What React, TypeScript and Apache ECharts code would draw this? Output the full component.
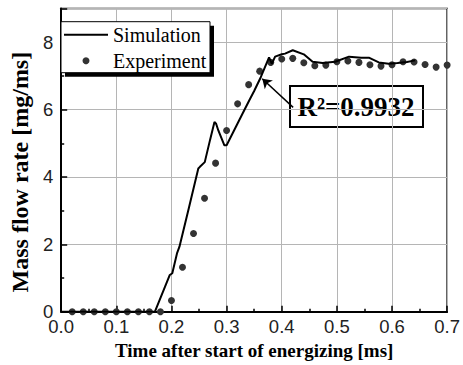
import React, { useEffect, useRef } from "react";
import * as echarts from "echarts";

// Simulation curve: [time ms, mass flow rate mg/ms]
const simTime = [0, 0.17, 0.197, 0.2015, 0.21, 0.2145, 0.232, 0.2487, 0.2516, 0.2604, 0.27, 0.278, 0.281, 0.285, 0.296, 0.30, 0.332, 0.341, 0.35, 0.362, 0.377, 0.382, 0.388, 0.40, 0.406, 0.42, 0.44, 0.456, 0.474, 0.497, 0.522, 0.544, 0.558, 0.576, 0.594, 0.61, 0.627, 0.642];
const simValue = [0, 0, 1.09, 1.14, 1.73, 1.93, 3.11, 4.25, 4.30, 4.44, 5.1, 5.63, 5.58, 5.38, 4.94, 4.94, 5.98, 6.27, 6.55, 6.96, 7.55, 7.36, 7.57, 7.64, 7.66, 7.76, 7.64, 7.42, 7.38, 7.42, 7.57, 7.54, 7.54, 7.40, 7.36, 7.38, 7.41, 7.46];

// Experiment points
const expTime = [0.02, 0.04, 0.06, 0.08, 0.10, 0.12, 0.14, 0.16, 0.18, 0.20, 0.22, 0.24, 0.26, 0.28, 0.30, 0.32, 0.34, 0.36, 0.38, 0.40, 0.42, 0.44, 0.46, 0.48, 0.50, 0.52, 0.54, 0.56, 0.58, 0.60, 0.62, 0.64, 0.66, 0.68, 0.70];
const expValue = [0, 0, 0, 0, 0, 0, 0, 0, 0, 0.33, 1.32, 2.32, 3.37, 4.41, 5.38, 6.17, 6.74, 7.14, 7.40, 7.50, 7.52, 7.39, 7.30, 7.32, 7.42, 7.44, 7.40, 7.33, 7.29, 7.33, 7.42, 7.41, 7.34, 7.26, 7.32];

const seriesNames = ["Simulation", "Experiment"];
const xTitle = "Time after start of energizing [ms]";
const yTitle = "Mass flow rate [mg/ms]";
const annotationText = "R\u00b2=0.9932";
// arrow from annotation box to curve, in data coordinates
const arrowFrom = [0.4207, 6.065];
const arrowTo = [0.3647, 6.915];

export default function App() {
  const ref = useRef<HTMLDivElement>(null);
  useEffect(() => {
    if (!ref.current) return;
    const chart = echarts.init(ref.current, null, { renderer: "svg" });
    const simData = simTime.map((t, i) => [t, simValue[i]]);
    const expData = expTime.map((t, i) => [t, expValue[i]]);
    const serif = "'Liberation Serif', 'Times New Roman', serif";
    const sans = "'Liberation Sans', Arial, sans-serif";
    chart.setOption({
      animation: false,
      backgroundColor: "#fff",
      grid: {
        left: 52,
        right: 15,
        top: 8.5,
        bottom: 53.3,
        show: true,
        borderColor: "#000",
        borderWidth: 1.5,
        backgroundColor: "transparent",
      },
      legend: {
        left: 61,
        top: 21.7,
        orient: "vertical",
        z: 30,
        padding: [3, 5, 3, 3],
        itemGap: 6,
        itemWidth: 44,
        itemHeight: 7,
        textStyle: { fontFamily: serif, fontSize: 20, color: "#000", lineHeight: 20 },
        data: [
          { name: seriesNames[0], icon: "path://M0,0h44v2h-44z", itemStyle: { color: "#000" } },
          { name: seriesNames[1], icon: "circle", itemStyle: { color: "#333" } },
        ],
      },
      xAxis: {
        type: "value",
        min: 0,
        max: 0.7,
        interval: 0.1,
        name: xTitle,
        nameLocation: "middle",
        nameGap: 22,
        nameTextStyle: { fontFamily: serif, fontSize: 19, fontWeight: "bold", color: "#000" },
        axisLine: { show: true, onZero: false, lineStyle: { color: "#000", width: 2 } },
        axisTick: { show: true, inside: true, length: 6, lineStyle: { color: "#000", width: 1.5 } },
        minorTick: { show: true, splitNumber: 2, length: 3, lineStyle: { color: "#000", width: 1.5 } },
        axisLabel: {
          margin: 8,
          fontFamily: sans,
          fontSize: 18.5,
          lineHeight: 13,
          color: "#222",
          formatter: (v: number) => v.toFixed(1),
        },
        splitLine: { show: true, lineStyle: { color: "#b5b5b5", width: 1 } },
      },
      yAxis: {
        type: "value",
        min: 0,
        max: 9,
        interval: 2,
        name: yTitle,
        nameLocation: "middle",
        nameRotate: 90,
        nameGap: 17,
        nameTextStyle: {
          fontFamily: serif,
          fontSize: 24,
          fontWeight: "bold",
          color: "#000",
          padding: [0, 24, 0, 0],
        },
        axisLine: { show: true, onZero: false, lineStyle: { color: "#000", width: 2 } },
        axisTick: { show: true, inside: true, length: 6, lineStyle: { color: "#000", width: 1.5 } },
        minorTick: { show: true, splitNumber: 2, length: 3, lineStyle: { color: "#000", width: 1.5 } },
        axisLabel: {
          margin: 8,
          fontFamily: sans,
          fontSize: 18.5,
          lineHeight: 13,
          color: "#222",
          showMaxLabel: false,
        },
        splitLine: { show: true, lineStyle: { color: "#b5b5b5", width: 1 } },
      },
      graphic: [
        {
          type: "rect",
          z: 20,
          shape: { x: 65, y: 25.7, width: 149, height: 51 },
          style: { fill: "#000" },
          silent: true,
        },
        {
          type: "rect",
          z: 21,
          shape: { x: 61, y: 21.7, width: 149, height: 51 },
          style: { fill: "#fff", stroke: "#000", lineWidth: 1 },
          silent: true,
        },
        {
          type: "group",
          z: 20,
          children: [
            {
              type: "rect",
              shape: { x: 290, y: 86, width: 133, height: 41 },
              style: { fill: "#fff", stroke: "#000", lineWidth: 2 },
            },
            {
              type: "text",
              x: 356,
              y: 106.5,
              style: {
                text: annotationText,
                fontFamily: serif,
                fontSize: 27,
                fontWeight: "bold",
                fill: "#000",
                align: "center",
                verticalAlign: "middle",
              },
            },
          ],
        },
      ],
      series: [
        {
          name: seriesNames[0],
          type: "line",
          data: simData,
          symbol: "none",
          z: 4,
          lineStyle: { color: "#000", width: 2 },
          itemStyle: { color: "#000" },
          markLine: {
            silent: true,
            symbol: ["none", "arrow"],
            symbolSize: 9,
            label: { show: false },
            lineStyle: { color: "#000", width: 1.5, type: "solid" },
            data: [[{ coord: arrowFrom }, { coord: arrowTo }]],
          },
        },
        {
          name: seriesNames[1],
          type: "scatter",
          data: expData,
          symbolSize: 7,
          z: 3,
          itemStyle: { color: "#333", opacity: 1 },
        },
      ],
    });
    return () => chart.dispose();
  }, []);
  return (
    <div
      ref={ref}
      style={{ position: "fixed", left: 0, top: 0, width: 463, height: 365, background: "#fff" }}
    />
  );
}
